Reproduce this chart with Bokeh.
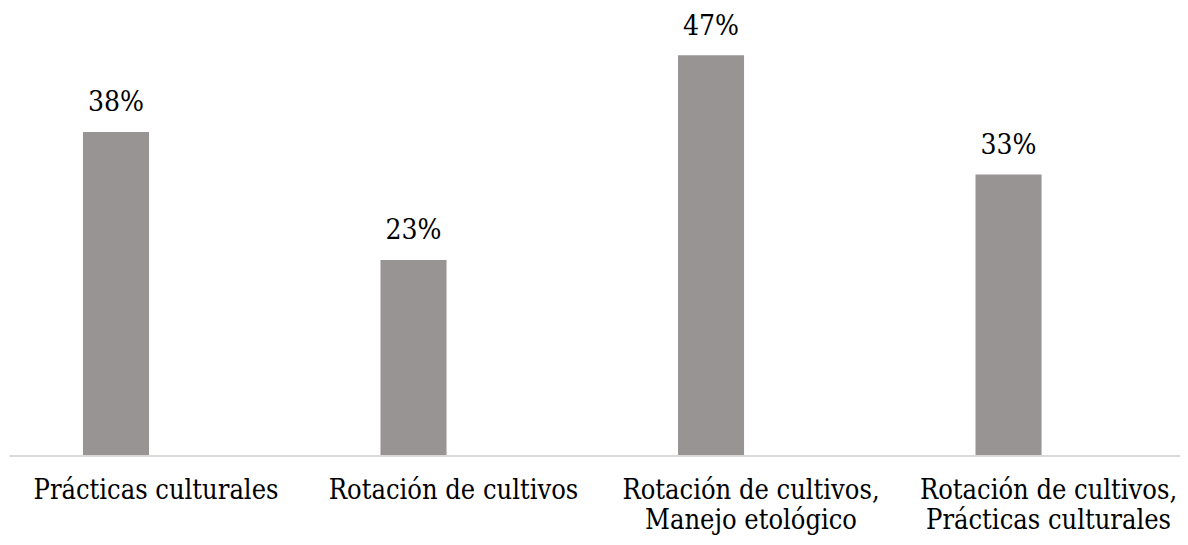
from bokeh.plotting import figure
from bokeh.models import ColumnDataSource, Range1d
from bokeh.core.properties import value
from bokeh.embed import file_html
from bokeh.resources import INLINE

categories = [
    "Prácticas culturales",
    "Rotación de cultivos",
    "Rotación de cultivos,\nManejo etológico",
    "Rotación de cultivos,\nPrácticas culturales",
]
percentages = [38, 23, 47, 33]
value_labels = ["38%", "23%", "47%", "33%"]

FONT = value("DejaVu Serif Condensed")
BAR_COLOR = "#989493"

xs = list(range(len(categories)))
line1 = [c.split("\n")[0] for c in categories]
line2 = [c.split("\n")[1] if "\n" in c else "" for c in categories]

src = ColumnDataSource(dict(x=xs, top=percentages, lab=value_labels,
                            l1=line1, l2=line2, zero=[0] * len(xs)))

p = figure(width=1180, height=537, output_backend="svg", toolbar_location=None,
           x_range=Range1d(-0.3882, 3.578), y_range=Range1d(-9.56, 53.42),
           min_border=0)
p.axis.visible = False
p.grid.visible = False
p.outline_line_color = None
p.background_fill_color = "white"
p.border_fill_color = "white"

p.vbar(x="x", top="top", bottom=0, width=0.222, source=src,
       fill_color=BAR_COLOR, line_color=None)

# baseline axis
p.segment(x0=-0.358, y0=0, x1=3.578, y1=0, line_color="#d9d9d9", line_width=2)

# value labels
p.text(x="x", y="top", text="lab", source=src, text_font=FONT,
       text_font_size="28px", text_align="center", text_baseline="alphabetic",
       y_offset=-30, text_color="black")

# category labels
p.text(x="x", y="zero", text="l1", source=src, text_font=FONT,
       text_font_size="27px", text_align="center", text_baseline="alphabetic",
       x_offset=40, y_offset=33.5, text_color="black")
p.text(x="x", y="zero", text="l2", source=src, text_font=FONT,
       text_font_size="27px", text_align="center", text_baseline="alphabetic",
       x_offset=40, y_offset=63.5, text_color="black")

open("out.html", "w").write(file_html(p, INLINE))
